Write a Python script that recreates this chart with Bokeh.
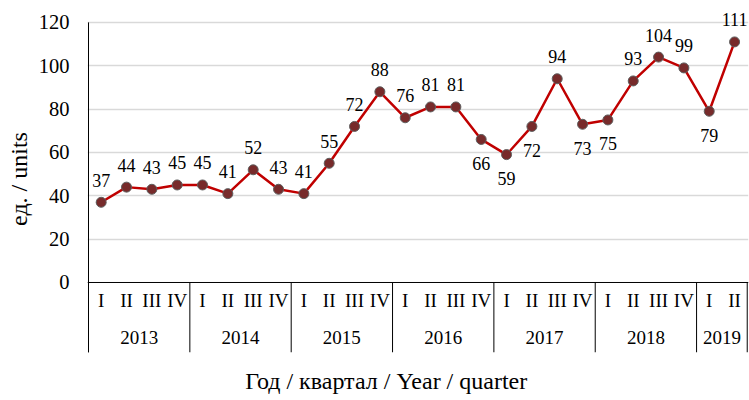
import math
from bokeh.plotting import figure
from bokeh.models import ColumnDataSource, FixedTicker, Range1d, Span, Title, LinearAxis
from bokeh.core.properties import value
from bokeh.embed import file_html
from bokeh.resources import INLINE

# ---- data ----
years = ["2013", "2014", "2015", "2016", "2017", "2018", "2019"]
quarters_per_year = [4, 4, 4, 4, 4, 4, 2]
quarter_names = ["I", "II", "III", "IV"]
values = [37, 44, 43, 45,
          45, 41, 52, 43,
          41, 55, 72, 88,
          76, 81, 81, 66,
          59, 72, 94, 73,
          75, 93, 104, 99,
          79, 111]
y_ticks = [0, 20, 40, 60, 80, 100, 120]
y_label = "ед. / units"
x_title = "Год / квартал / Year / quarter"

# ---- style config ----
below_label_idx = {15, 16, 17, 19, 20, 24}
FONT = "Liberation Serif"
Y_BOTTOM = -32.3
Y_TOP = 127.8
X_TITLE_POS = 11.75

n = len(values)
xs = [i + 0.5 for i in range(n)]
quarter_labels = []
for k in quarters_per_year:
    quarter_labels += quarter_names[:k]
boundaries = [0]
for k in quarters_per_year:
    boundaries.append(boundaries[-1] + k)
year_centers = [(boundaries[i] + boundaries[i + 1]) / 2 for i in range(len(years))]

p = figure(width=749, height=400, output_backend="svg", toolbar_location=None,
           x_range=Range1d(-0.04, n + 0.05), y_range=Range1d(Y_BOTTOM, Y_TOP),
           x_axis_location=None, min_border_left=87, min_border_right=1,
           min_border_top=5, min_border_bottom=48)
p.outline_line_color = None
p.xgrid.visible = False
p.ygrid.ticker = FixedTicker(ticks=y_ticks[1:])
p.ygrid.grid_line_color = "#d9d9d9"
p.ygrid.grid_line_width = 1.3

ax = p.yaxis[0]
ax.ticker = FixedTicker(ticks=y_ticks)
ax.major_tick_line_color = None
ax.minor_tick_line_color = None
ax.major_tick_out = 0
ax.major_tick_in = 0
ax.minor_tick_out = 0
ax.major_label_standoff = 18
ax.major_label_text_font = FONT
ax.major_label_text_font_size = "20.5px"
ax.major_label_text_color = "black"
ax.axis_line_color = None

# x title as a single labelled position on a bare bottom axis
xax = LinearAxis(ticker=FixedTicker(ticks=[X_TITLE_POS]),
                 major_label_overrides={X_TITLE_POS: x_title},
                 axis_line_color=None, major_tick_line_color=None,
                 minor_tick_line_color=None, major_tick_out=0, major_tick_in=0,
                 minor_tick_out=0, major_label_standoff=15,
                 major_label_text_font=FONT, major_label_text_font_size="24px",
                 major_label_text_color="black")
p.add_layout(xax, "below")

# value axis line (stops at the top tick) and baseline at zero
p.segment(x0=[0], y0=[Y_BOTTOM], x1=[0], y1=[y_ticks[-1]], line_color="black", line_width=1)
p.add_layout(Span(location=0, dimension="width", line_color="black", line_width=1))

# separators in the category table
p.segment(x0=boundaries, y0=[0] * len(boundaries), x1=boundaries,
          y1=[Y_BOTTOM] * len(boundaries), line_color="black", line_width=1)

# category labels
p.text(x=xs, y=[-8.3] * n, text=quarter_labels, text_font=value(FONT),
       text_font_size="19px", text_align="center", text_baseline="middle",
       text_color="black")
p.text(x=year_centers, y=[-25.4] * len(years), text=years, text_font=value(FONT),
       text_font_size="19px", text_align="center", text_baseline="middle",
       text_color="black")

# series
src = ColumnDataSource(dict(x=xs, y=values))
p.line("x", "y", source=src, line_color="#c00000", line_width=2.5)
p.scatter("x", "y", source=src, size=10, fill_color="#772b2b",
          line_color="#5e5e5e", line_width=1)

above = [i for i in range(n) if i not in below_label_idx]
below = [i for i in range(n) if i in below_label_idx]
src_a = ColumnDataSource(dict(x=[xs[i] for i in above], y=[values[i] for i in above],
                              t=[str(values[i]) for i in above]))
src_b = ColumnDataSource(dict(x=[xs[i] for i in below], y=[values[i] for i in below],
                              t=[str(values[i]) for i in below]))
p.text("x", "y", text="t", source=src_a, y_offset=-22, text_font=value(FONT),
       text_font_size="18px", text_align="center", text_baseline="middle",
       text_color="black")
p.text("x", "y", text="t", source=src_b, y_offset=24, text_font=value(FONT),
       text_font_size="18px", text_align="center", text_baseline="middle",
       text_color="black")

# y title
p.add_layout(Title(text=y_label, align="center", vertical_align="top", standoff=3,
                   text_font=FONT, text_font_size="24px", text_font_style="normal",
                   text_color="black"), "left")

open("out.html", "w").write(file_html(p, INLINE))
